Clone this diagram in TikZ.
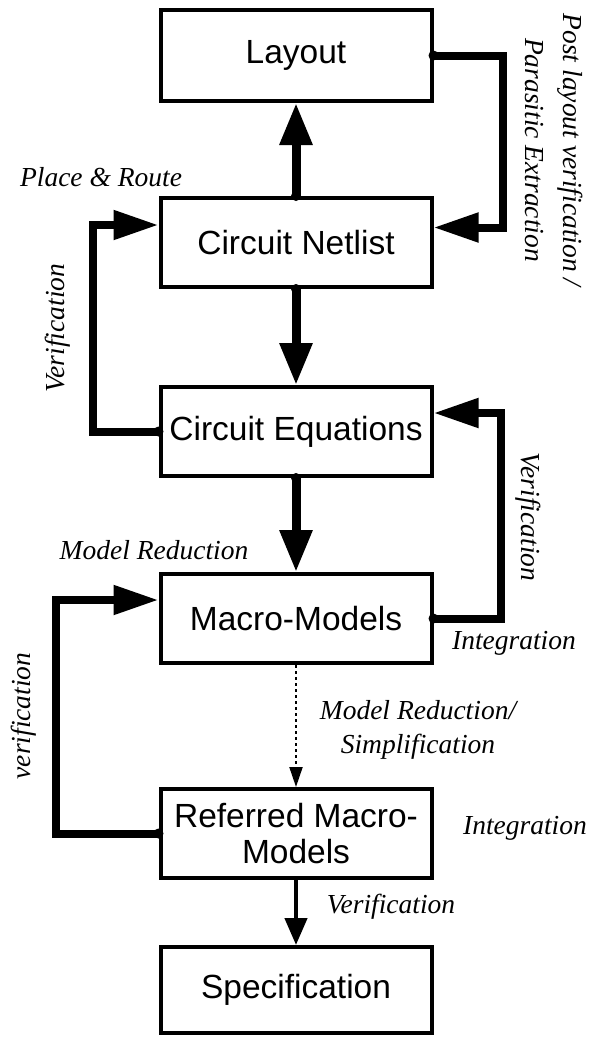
\documentclass[tikz,border=0pt]{standalone}
\usepackage{fontspec}
\setmainfont{Liberation Serif}
\newfontfamily\arialf{Liberation Sans}
\usetikzlibrary{arrows.meta}
\begin{document}
\begin{tikzpicture}[x=1pt,y=-1pt,
  box/.style={draw,line width=4pt,minimum width=271pt,minimum height=89pt,inner sep=0pt,align=center,
    font=\arialf\fontsize{33.5}{40}\selectfont},
  vflow/.style={line width=9pt,-{Triangle[length=42pt,width=31pt]}},
  hflow/.style={line width=8pt,-{Triangle[length=45pt,width=28pt]}},
  dotflow/.style={line width=2pt,dash pattern=on 3pt off 3pt,-{Triangle[length=20pt,width=13pt]}},
  thinflow/.style={line width=4.5pt,-{Triangle[length=27pt,width=22pt]}},
  lbl/.style={font=\itshape\fontsize{27.5}{34}\selectfont,inner sep=0pt,align=center},
  post/.style={font=\itshape\fontsize{27.5}{38}\selectfont,inner sep=0pt,align=center}
]
\useasboundingbox (0,0) rectangle (603,1037);
% boxes
\node[box,minimum height=91pt] (lay) at (296,55.5) {Layout};
\node[box] (net) at (296,242.5) {Circuit Netlist};
\node[box] (eq)  at (296,431.5) {Circuit Equations};
\node[box] (mac) at (296,618.5) {Macro-Models};
\node[box] (ref) at (296,833.5) {Referred Macro-\\[-4pt]Models};
\node[box,minimum height=86pt] (spec) at (296,990) {Specification};
% vertical connectors
\draw[vflow] (net.north) -- (lay.south);
\draw[vflow] (net.south) -- (eq.north);
\draw[vflow] (eq.south) -- (mac.north);
\draw[dotflow] (mac.south) -- (ref.north);
\draw[thinflow] (ref.south) -- (spec.north);
% loops
\draw[hflow] (lay.east) -- ++(69,0) |- ([yshift=15pt]net.east);
\draw[hflow] (eq.west) -- ++(-66,0) |- ([yshift=17.5pt]net.west);
\draw[hflow] (mac.east) -- ++(67,0) |- ([yshift=18.5pt]eq.east);
\draw[hflow] (ref.west) -- ++(-103,0) |- ([yshift=18.5pt]mac.west);
% start dots
\foreach \p in {lay.east,net.north,net.south,eq.south,eq.west,mac.east,ref.west}
  \fill (\p) circle (5pt);
% labels
\node[lbl] (pr) at (101,177) {Place \& Route};
\node[post,rotate=-90] (pl) at (554,150) {Post layout verification /\\Parasitic Extraction};
\node[lbl,rotate=90] (v1) at (58,328) {Verification};
\node[lbl,rotate=-90] (v2) at (528,517) {Verification};
\node[lbl] (mr) at (154,550) {Model Reduction};
\node[lbl] (int1) at (514,643) {Integration};
\node[lbl] (mrs) at (418,730) {Model Reduction/\\Simplification};
\node[lbl,rotate=90] (v3) at (24,716) {verification};
\node[lbl] (int2) at (525,828) {Integration};
\node[lbl] (v4) at (391,907) {Verification};
\end{tikzpicture}
\end{document}
